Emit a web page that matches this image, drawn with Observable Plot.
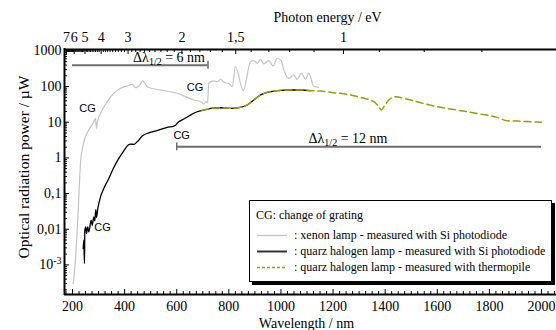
<!DOCTYPE html>
<html><head><meta charset="utf-8">
<script src="https://cdn.jsdelivr.net/npm/d3@7"></script>
<script src="https://cdn.jsdelivr.net/npm/@observablehq/plot@0.6"></script>
<style>
body{margin:0;background:#fff;}
#wrap{position:relative;width:556px;height:330px;overflow:hidden;background:#fff;}
#legend{position:absolute;left:249px;top:200px;width:303px;height:82px;border:1px solid #000;background:#fff;box-shadow:3px 3px 0 #000;font-family:"Liberation Serif",serif;font-size:12px;box-sizing:border-box;color:#000;}
#legend .row{position:absolute;left:6px;height:14px;line-height:14px;white-space:nowrap;}
#legend svg{position:absolute;left:6px;}
</style></head><body><div id="wrap"></div>
<script>
// ---------- data ----------
const xenonWavelength = [202.7,210.4,218.0,224.2,230.7,239.5,249.9,262.6,281.7,288.3,292.1,294.8,313.9,333.2,358.5,384.3,410.0,429.1,441.8,460.9,469.8,486.7,537.7,601.8,665.5,691.2,703.9,713.1,718.1,723.1,741.1,755.3,768.0,779.5,791.1,802.6,812.9,825.5,855.2,883.2,895.9,908.8,921.5,934.2,953.4,970.3,985.6,1000.9,1010.9,1030.1,1049.3,1062.4,1078.9,1094.2,1106.9,1126.1,1145.3];
const xenonPower = [0.000299,0.00111,0.00938,0.0807,0.714,2.05,3.92,6.04,10.3,12.9,6.75,9.68,22.0,37.7,64.9,89.5,104,116,93.1,118,144,99.3,80.2,64.9,42.1,37.7,32.4,37.7,34.7,124,144,137,163,135,126,118,99.3,362,76.7,500,535,451,585,432,535,379,624,535,292,171,212,160,237,160,237,99.3,95.5];

const halogenWavelength = [241.1,243.3,246.0,247.3,251.1,253.7,258.7,262.6,271.7,275.6,281.7,285.5,289.5,292.1,297.1,307.5,320.1,339.3,358.5,377.7,396.9,413.8,422.6,435.2,448.3,467.5,492.9,525.1,563.5,588.8,595.3,601.8,607.9,627.2,652.9,678.5,703.9,723.1,729.6,768.0,806.4,844.8,870.5,895.9,921.5,947.2,985.6,1036.7,1075.1,1113.5];
const halogenPower = [0.00287,0.00491,0.00109,0.00938,0.0116,0.00757,0.0116,0.00839,0.0179,0.0129,0.0222,0.0171,0.0357,0.0213,0.0381,0.0807,0.139,0.265,0.541,0.968,1.58,2.29,2.44,2.39,2.83,4.09,5.07,5.85,7.19,7.82,8.18,9.31,10.3,12.3,15.9,19.7,22.0,23.5,24.5,25.5,24.5,26.2,30.4,42.1,58.1,69.2,76.7,80.2,80.2,76.7];

const thermoWavelength = [695.6,723.1,768.0,806.4,844.8,870.5,895.9,921.5,947.2,985.6,1036.7,1075.1,1113.5,1151.8,1202.8,1254.3,1318.0,1356.4,1375.6,1384.8,1394.7,1413.9,1439.7,1471.5,1535.6,1599.7,1676.4,1765.9,1830.0,1868.3,1906.7,1983.5,2000];
const thermoPower = [21.4,23.5,25.5,24.5,26.2,30.4,42.1,58.1,69.2,76.7,80.2,80.2,76.7,75.2,67.5,60.8,46.9,37.7,27.2,22.0,27.2,42.1,52.0,46.9,35.3,27.2,22.0,17.0,13.7,11.0,10.8,10.1,10.0];

const xTicks = [200,400,600,800,1000,1200,1400,1600,1800,2000];
const yTickValues = [1000,100,10,1,0.1,0.01,0.001];
const yTickLabels = ["1000","100","10","1","0,1","0,01","10^-3"];
const energyTicks = [7,6,5,4,3,2,1.5,1];
const energyLabels = ["7","6","5","4","3","2","1,5","1"];

const cgWavelength = [258,670,619,315];
const cgPower = [24.5,95,4.37,0.0114];

const fwhmLabels = ["Δλ1/2 = 6 nm","Δλ1/2 = 12 nm"];
const fwhmFrom = [200,600];
const fwhmTo = [720,2000];
const fwhmLevel = [396,2.04];
const fwhmTickAt = [720,600];
const fwhmTextAt = [720,1106];

const legendTitle = "CG: change of grating";
const legendLabels = [": xenon lamp - measured with Si photodiode", ": quarz halogen lamp - measured with Si photodiode", ": quarz halogen lamp - measured with thermopile"];

// ---------- build ----------
const hc = 1239.84;
const SERIF = '"Liberation Serif", "Times New Roman", serif';
const SANS = '"Liberation Sans", Arial, sans-serif';
const YTITLE = "Optical radiation power / µW";
const xenon = xenonWavelength.map((w,i)=>({w, p:xenonPower[i]}));
const halogen = halogenWavelength.map((w,i)=>({w, p:halogenPower[i]}));
const thermo = thermoWavelength.map((w,i)=>({w, p:thermoPower[i]}));
const cg = cgWavelength.map((w,i)=>({w, p:cgPower[i]}));
const fwhm = fwhmLabels.map((t,i)=>({t, x1:fwhmFrom[i], x2:fwhmTo[i], y:fwhmLevel[i], tick:fwhmTickAt[i], tx:fwhmTextAt[i]}));
const yTicks = yTickValues.map((v,i)=>({v, label:yTickLabels[i]}));
const eTicks = energyTicks.map((e,i)=>({e, label:energyLabels[i]}));

const W=556,H=330,mT=49,mB=36,mL=64,mR=0;
const fw=W-mL-mR, fh=H-mT-mB;
const xDomain=[169.3,2057.5];
const yDomain=[10**-3.83,10**3.04];

const xMinor = d3.range(175,2057,25).filter(v=>v%200!==0);
const yMinor = [];
for (let d=-4; d<=3; d++) for (let k=2;k<=9;k++){ const v=k*10**d; if (v>yDomain[0] && v<yDomain[1]) yMinor.push(v); }
const eMinor = d3.range(7,71).map(k=>k/10).filter(e=>!energyTicks.includes(e)).map(e=>hc/e).filter(l=>l>xDomain[0]&&l<xDomain[1]);

const txt = {fontFamily:SERIF, fontSize:14, fill:"#000", textAnchor:"middle", lineAnchor:"middle"};

const chart = Plot.plot({
  width:W, height:H, marginTop:mT, marginBottom:mB, marginLeft:mL, marginRight:mR,
  style:{background:"white", color:"black", overflow:"visible"},
  x:{domain:xDomain, axis:null},
  y:{type:"log", domain:yDomain, axis:null},
  marks:[
    // fwhm annotations
    Plot.ruleY(fwhm, {x1:"x1", x2:"x2", y:"y", stroke:"#6e6e6e", strokeWidth:2}),
    Plot.ruleX(fwhm, {x:"tick", y1:"y", y2:"y", insetTop:-4, insetBottom:-4, stroke:"#6e6e6e", strokeWidth:1.5}),
    Plot.text(fwhm.slice(0,1), {...txt, x:"tx", y:"y", text:"t", textAnchor:"end", dy:-8, dx:-3}),
    Plot.text(fwhm.slice(1), {...txt, x:"tx", y:"y", text:"t", textAnchor:"start", dy:-8}),
    // series
    Plot.line(xenon, {x:"w", y:"p", stroke:"#c4c4c4", strokeWidth:1.2, curve:"monotone-x"}),
    Plot.line(halogen, {x:"w", y:"p", stroke:"#000", strokeWidth:1.3, curve:"monotone-x"}),
    Plot.line(thermo, {x:"w", y:"p", stroke:"#9c9c10", strokeWidth:1.5, strokeDasharray:"7,4", curve:"monotone-x"}),
    // CG labels
    Plot.text(cg, {x:"w", y:"p", text:()=>"CG", fontFamily:SANS, fontSize:11, fill:"#000"}),
    // ticks (inward)
    Plot.ruleX(xTicks, {insetTop:fh-5, stroke:"#000"}),
    Plot.ruleX(xMinor, {insetTop:fh-3, stroke:"#000"}),
    Plot.ruleX(eTicks, {x:d=>hc/d.e, insetBottom:fh-5, stroke:"#000"}),
    Plot.ruleX(eMinor, {insetBottom:fh-3, stroke:"#000"}),
    Plot.ruleY(yTicks, {y:"v", insetRight:fw-5, stroke:"#000"}),
    Plot.ruleY(yMinor, {insetRight:fw-3, stroke:"#000"}),
    // frame
    Plot.ruleY([yDomain[0], yDomain[1]], {stroke:"#000", strokeWidth:2}),
    Plot.ruleX([xDomain[0]], {stroke:"#000", strokeWidth:2, insetTop:-1, insetBottom:-1}),
    // tick labels
    Plot.text(xTicks, {...txt, x:d=>d, text:d=>String(d), frameAnchor:"bottom", dy:12}),
    Plot.text(eTicks, {...txt, x:d=>hc/d.e, text:"label", frameAnchor:"top", dy:-12}),
    Plot.text(yTicks, {...txt, y:"v", text:"label", frameAnchor:"left", textAnchor:"end", dx:-3}),
    // titles
    Plot.text(["Wavelength / nm"], {...txt, frameAnchor:"bottom", dy:29, dx:-4}),
    Plot.text(["Photon energy / eV"], {...txt, frameAnchor:"top", dy:-32, dx:17}),
    Plot.text([YTITLE], {...txt, frameAnchor:"left", rotate:-90, dx:-40, dy:-5})
  ]
});

// fonts + rich text: subscripts / superscripts
const NS = "http://www.w3.org/2000/svg";
chart.querySelectorAll("text").forEach(t=>{
  const s = t.textContent;
  if (s === "CG") {
    t.style.fontFamily = SANS; t.style.fontSize = "11px";
  } else {
    t.style.fontFamily = SERIF; t.style.fontSize = (s === YTITLE) ? "15.5px" : "14px";
  }
  if (s.startsWith("Δλ1/2")) {
    const rest = s.slice(5);
    t.textContent = "";
    const a = document.createElementNS(NS,"tspan"); a.textContent = "Δλ"; t.appendChild(a);
    const b = document.createElementNS(NS,"tspan"); b.textContent = "1/2"; b.style.fontSize = "10px"; b.setAttribute("dy","3"); t.appendChild(b);
    const c = document.createElementNS(NS,"tspan"); c.textContent = rest; c.setAttribute("dy","-3"); t.appendChild(c);
  } else if (s === "10^-3") {
    t.textContent = "";
    const a = document.createElementNS(NS,"tspan"); a.textContent = "10"; t.appendChild(a);
    const b = document.createElementNS(NS,"tspan"); b.textContent = "-3"; b.style.fontSize = "10px"; b.setAttribute("dy","-5"); t.appendChild(b);
  }
});

const wrap = document.getElementById("wrap");
wrap.appendChild(chart);

// legend
const lg = document.createElement("div"); lg.id = "legend";
const title = document.createElement("div"); title.className="row"; title.style.top="7px"; title.textContent = legendTitle; lg.appendChild(title);
const sampleStyles = [
  {stroke:"#c4c4c4", w:1.3, dash:""},
  {stroke:"#333", w:2, dash:""},
  {stroke:"#9c9c10", w:1.3, dash:"3,2"}
];
const rowTops = [27, 43, 59];
legendLabels.forEach((lab,i)=>{
  const svg = document.createElementNS(NS,"svg");
  svg.setAttribute("width","32"); svg.setAttribute("height","14");
  svg.style.top = rowTops[i]+"px";
  const ln = document.createElementNS(NS,"line");
  ln.setAttribute("x1","1"); ln.setAttribute("x2","31"); ln.setAttribute("y1","7.5"); ln.setAttribute("y2","7.5");
  ln.setAttribute("stroke", sampleStyles[i].stroke); ln.setAttribute("stroke-width", sampleStyles[i].w);
  if (sampleStyles[i].dash) ln.setAttribute("stroke-dasharray", sampleStyles[i].dash);
  svg.appendChild(ln); lg.appendChild(svg);
  const r = document.createElement("div"); r.className="row"; r.style.left="44px"; r.style.top=rowTops[i]+"px"; r.textContent = lab; lg.appendChild(r);
});
wrap.appendChild(lg);
</script>
</body></html>
